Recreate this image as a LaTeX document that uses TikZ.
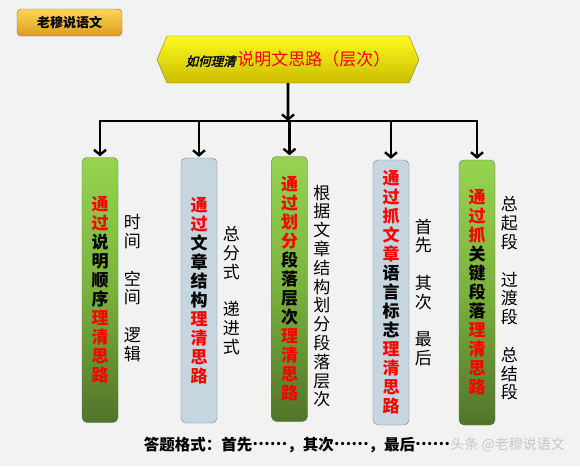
\documentclass[tikz,border=0pt]{standalone}
\usepackage{fontspec}
\setmainfont{Noto Sans CJK SC}
\newfontfamily\cjkxie[FakeSlant=0.25,FakeBold=2]{Noto Sans CJK SC}
\usetikzlibrary{arrows.meta, positioning, shapes.symbols}

\definecolor{beijing}{RGB}{242,242,242}
\definecolor{qianlv}{RGB}{150,212,80}
\definecolor{zhonglv}{RGB}{122,178,60}
\definecolor{shenlv}{RGB}{82,116,42}
\definecolor{lvbian}{RGB}{100,115,95}
\definecolor{huilan}{RGB}{198,214,224}
\definecolor{lanbian}{RGB}{118,130,140}
\definecolor{jinshang}{RGB}{255,214,84}
\definecolor{jinxia}{RGB}{218,158,32}
\definecolor{jinbian}{RGB}{140,112,64}
\definecolor{huangshang}{RGB}{252,250,30}
\definecolor{huangxia}{RGB}{204,188,0}
\definecolor{huangbian}{RGB}{130,122,60}

\newcommand{\hong}[1]{\textcolor{red}{#1}}
\newcommand{\dian}{\raisebox{.32em}{……}}

\begin{document}
\begin{tikzpicture}[x=1pt, y=-1pt,
  every node/.style={inner sep=0pt},
  kuang/.style={rounded corners=5pt, minimum width=36pt, minimum height=265pt,
    align=center, font=\bfseries\fontsize{17}{19}\selectfont},
  lvkuang/.style={kuang, draw=lvbian, top color=qianlv, bottom color=shenlv, middle color=zhonglv},
  lankuang/.style={kuang, draw=lanbian, fill=huilan},
  pangzhu/.style={align=center, font=\fontsize{17}{18.8}\selectfont},
  jiantou/.style={line width=2.6pt, -{Straight Barb[length=5pt,width=12pt,line width=2.4pt]}}
]
  \fill[beijing] (0,0) rectangle (580,466);

  \node[draw=jinbian, rounded corners=4pt, minimum width=105pt, minimum height=27pt,
    top color=jinshang, bottom color=jinxia, font=\bfseries\fontsize{13}{13}\selectfont]
    (laomu) at (69.5,22.5) {老穆说语文};

  \node[signal, signal to=west and east, signal pointer angle=134,
    minimum width=262pt, minimum height=47pt, draw=huangbian,
    top color=huangshang, bottom color=huangxia]
    (title) at (288,59.5) {{\cjkxie\fontsize{12.5}{13}\selectfont 如何理清}\,\textcolor{red}{\fontsize{17}{17}\selectfont 说明文思路（层次）}};

  \coordinate (hub) at (288,121);

  \node[lvkuang] (b1) at (100,290) {\hong{通}\\\hong{过}\\说\\明\\顺\\序\\\hong{理}\\\hong{清}\\\hong{思}\\\hong{路}};
  \node[lankuang] (b2) at (199,290.5) {\hong{通}\\\hong{过}\\文\\章\\结\\构\\\hong{理}\\\hong{清}\\\hong{思}\\\hong{路}};
  \node[lvkuang] (b3) at (289.5,289) {\hong{通}\\\hong{过}\\\hong{划}\\\hong{分}\\段\\落\\层\\次\\\hong{理}\\\hong{清}\\\hong{思}\\\hong{路}};
  \node[lankuang] (b4) at (391,292.5) {\hong{通}\\\hong{过}\\\hong{抓}\\\hong{文}\\\hong{章}\\语\\言\\标\\志\\\hong{理}\\\hong{清}\\\hong{思}\\\hong{路}};
  \node[lvkuang] (b5) at (477,292.5) {\hong{通}\\\hong{过}\\\hong{抓}\\关\\键\\段\\落\\\hong{理}\\\hong{清}\\\hong{思}\\\hong{路}};

  \node[pangzhu, right=5.5pt of b1, yshift=2pt] (s1) {时\\间\\\mbox{}\\空\\间\\\mbox{}\\逻\\辑};
  \node[pangzhu, right=5.5pt of b2] (s2) {总\\分\\式\\\mbox{}\\递\\进\\式};
  \node[pangzhu, right=5.5pt of b3, yshift=-7pt] (s3) {根\\据\\文\\章\\结\\构\\划\\分\\段\\落\\层\\次};
  \node[pangzhu, right=5.5pt of b4] (s4) {首\\先\\\mbox{}\\其\\次\\\mbox{}\\最\\后};
  \node[pangzhu, right=5.5pt of b5, yshift=-6pt] (s5) {总\\起\\段\\\mbox{}\\过\\渡\\段\\\mbox{}\\总\\结\\段};

  \draw[jiantou] (title) -- (hub);
  \draw[line width=2.6pt, line cap=rect] (b1 |- hub) -- (b5 |- hub);
  \foreach \b in {b1,b2,b3,b4,b5}
    \draw[jiantou, shorten >=1pt] (\b |- hub) -- (\b);

  \node[font=\bfseries\fontsize{15.5}{16}\selectfont] (daan) at (297,445) {答题格式：首先\dian，其次\dian，最后\dian};
  \node[right=0pt of daan, text=gray!45, font=\fontsize{14}{14}\selectfont] (shuiyin) {头条 @老穆说语文};
\end{tikzpicture}
\end{document}
